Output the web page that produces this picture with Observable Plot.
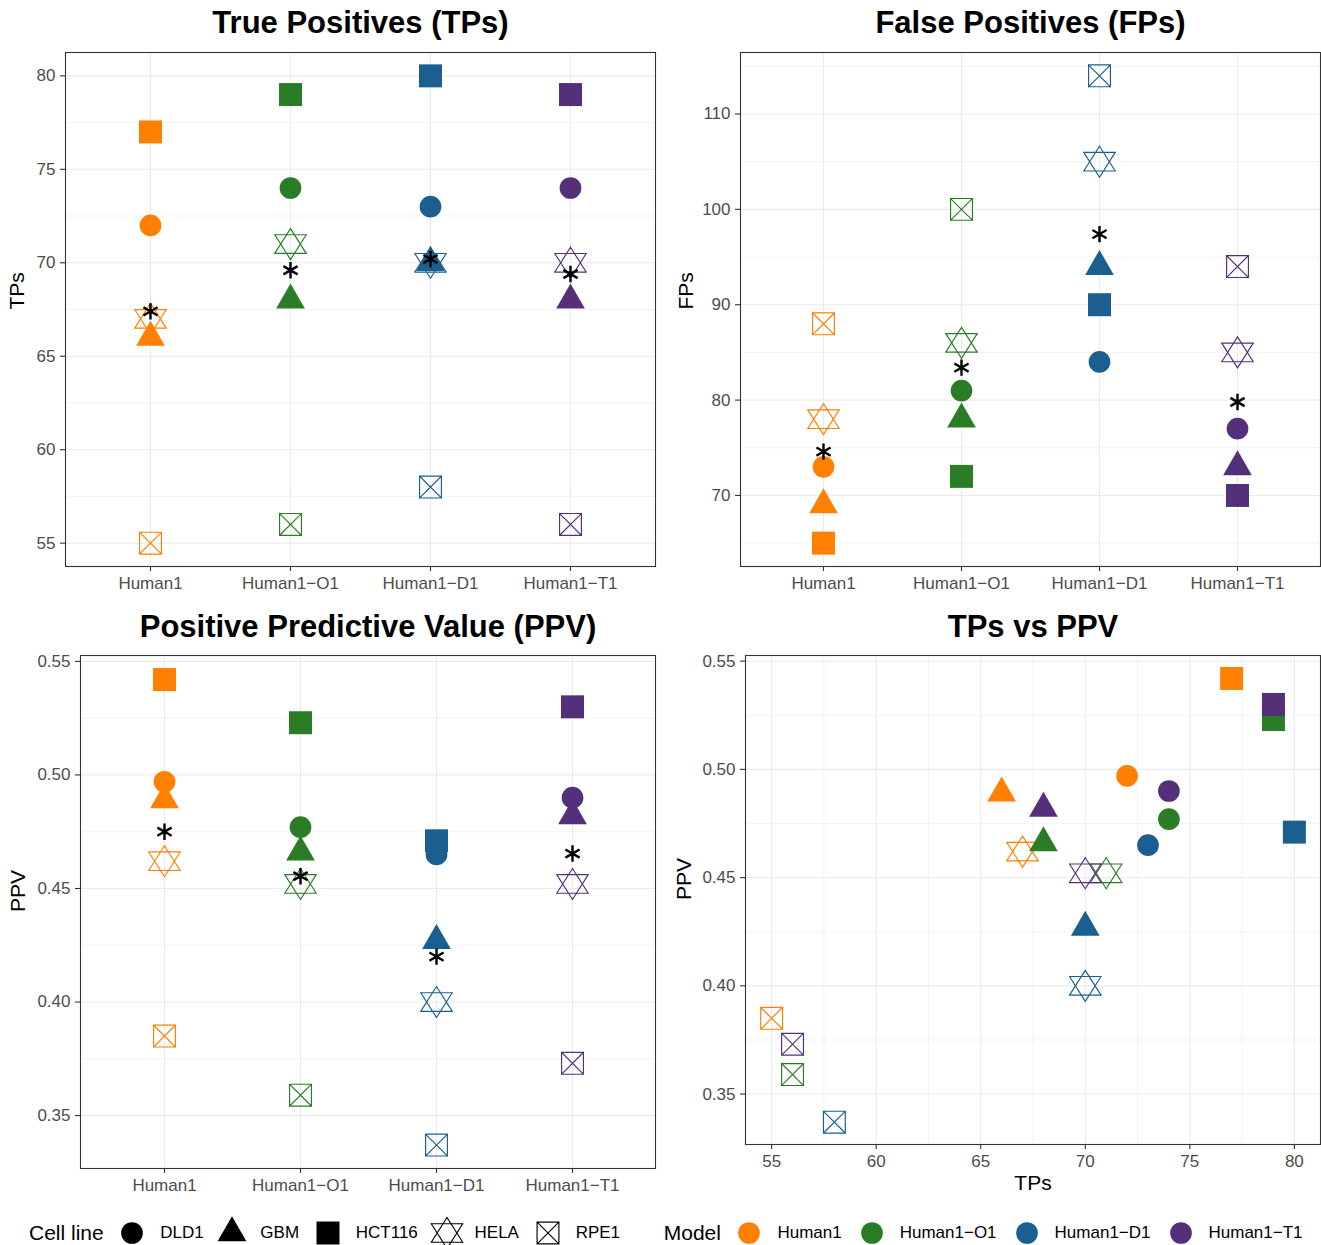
<!DOCTYPE html>
<html><head><meta charset="utf-8">
<script src="https://cdn.jsdelivr.net/npm/d3@7"></script>
<script src="https://cdn.jsdelivr.net/npm/@observablehq/plot@0.6"></script>
<style>
html,body{margin:0;padding:0;background:#fff;}
#root{position:relative;width:1321px;height:1245px;font-family:"Liberation Sans",Arial,Helvetica,sans-serif;overflow:hidden;}
#root svg.panel{position:absolute;overflow:visible;}
#legend{position:absolute;left:0;top:1207px;width:1321px;height:52px;display:flex;align-items:center;justify-content:flex-start;padding-left:29px;box-sizing:border-box;color:#000;}
#legend .lt{font-size:21px;margin-right:11.5px;}
#legend .lab{font-size:17px;}
#legend .lab.cell{margin-right:11.7px;}
#legend .lab.model{margin-right:13px;}
#legend svg{margin-right:11px;flex:none;}
#legend .gap{width:32px;flex:none;}
</style></head><body><div id="root"></div>
<script>
// ---- data ----
const models = ["Human1", "Human1-O1", "Human1-D1", "Human1-T1"];
const cellLines = ["DLD1", "GBM", "HCT116", "HELA", "RPE1"];
const modelColors = ["#FF7F00", "#2A7D26", "#1A5F8F", "#55307A"];
// rows: models (in order above), columns: cell lines (in order above)
const tpValues = [
  [72, 66, 77, 67, 55],
  [74, 68, 79, 71, 56],
  [73, 70, 80, 70, 58],
  [74, 68, 79, 70, 56]
];
const fpValues = [
  [73, 69, 65, 78, 88],
  [81, 78, 72, 86, 100],
  [84, 94, 90, 105, 114],
  [77, 73, 70, 85, 94]
];
const ppvValues = [
  [0.497, 0.489, 0.542, 0.462, 0.385],
  [0.477, 0.466, 0.523, 0.452, 0.359],
  [0.465, 0.427, 0.471, 0.400, 0.337],
  [0.490, 0.482, 0.530, 0.452, 0.373]
];
const tpTicks = [55, 60, 65, 70, 75, 80];
const tpMinor = [57.5, 62.5, 67.5, 72.5, 77.5];
const fpTicks = [70, 80, 90, 100, 110];
const fpMinor = [65, 75, 85, 95, 105, 115];
const ppvTicks = [0.35, 0.40, 0.45, 0.50, 0.55];
const ppvMinor = [0.375, 0.425, 0.475, 0.525];

const rows = models.flatMap((m, i) => cellLines.map((c, j) => ({
  model: m, cell: c, tp: tpValues[i][j], fp: fpValues[i][j], ppv: ppvValues[i][j]
})));

// ---- symbols ----
const W = 1.15;
function segQuads(ctx, segs, w) {
  const h = w / 2;
  for (const [x1, y1, x2, y2] of segs) {
    const dx = x2 - x1, dy = y2 - y1, L = Math.hypot(dx, dy), ux = dx / L, uy = dy / L;
    const nx = -uy * h, ny = ux * h;
    const ax = x1 - ux * h, ay = y1 - uy * h, bx = x2 + ux * h, by = y2 + uy * h;
    ctx.moveTo(ax + nx, ay + ny); ctx.lineTo(bx + nx, by + ny);
    ctx.lineTo(bx - nx, by - ny); ctx.lineTo(ax - nx, ay - ny); ctx.closePath();
  }
}
const symCircle = {draw(ctx, size) { const r = Math.sqrt(size / Math.PI) * 0.986; ctx.moveTo(r, 0); ctx.arc(0, 0, r, 0, 2 * Math.PI); ctx.closePath(); }};
const symTriangle = {draw(ctx, size) { const r = Math.sqrt(size / Math.PI); ctx.moveTo(0, -1.515 * r); ctx.lineTo(1.305 * r, 0.755 * r); ctx.lineTo(-1.305 * r, 0.755 * r); ctx.closePath(); }};
const symSquare = {draw(ctx, size) { const s = Math.sqrt(size / Math.PI) * 1.045; ctx.moveTo(-s, -s); ctx.lineTo(s, -s); ctx.lineTo(s, s); ctx.lineTo(-s, s); ctx.closePath(); }};
const symHexagram = {draw(ctx, size) {
  const r = Math.sqrt(size / Math.PI), a = 1.41 * r, b = 0.845 * r, c = 1.43 * r;
  const tris = [[[0, -a], [c, b], [-c, b]], [[0, a], [c, -b], [-c, -b]]];
  const segs = [];
  for (const t of tris) for (let i = 0; i < 3; i++) { const p = t[i], q = t[(i + 1) % 3]; segs.push([p[0], p[1], q[0], q[1]]); }
  segQuads(ctx, segs, W);
}};
const symBoxX = {draw(ctx, size) {
  const s = Math.sqrt(size / Math.PI) * 1.045 - W / 2;
  segQuads(ctx, [[-s, -s, s, -s], [s, -s, s, s], [s, s, -s, s], [-s, s, -s, -s], [-s, -s, s, s], [-s, s, s, -s]], W);
}};
const symAsterisk = {draw(ctx, size) {
  const r = Math.sqrt(size / Math.PI);
  const segs = [90, 30, -30].map(a => { const t = a * Math.PI / 180; return [-r * Math.cos(t), -r * Math.sin(t), r * Math.cos(t), r * Math.sin(t)]; });
  segQuads(ctx, segs, 2.4);
}};
const cellSymbols = [symCircle, symTriangle, symSquare, symHexagram, symBoxX];

// ---- common styling ----
const FONT = '"Liberation Sans", Arial, Helvetica, sans-serif';
const GRID = "#EBEBEB";
const axisOpts = {tickSize: 5, tickPadding: 5, fontSize: 17, stroke: "#333333", fill: "#4D4D4D", strokeWidth: 1.1, label: null};
const fmtModel = d => d.replace("-", "\u2212");

function title(t, dy) {
  return Plot.text([t], {text: d => d, frameAnchor: "top", dy, fontSize: 31, fontWeight: "bold", fill: "black", lineAnchor: "middle"});
}
function yTitle(t, dx) {
  return Plot.text([t], {text: d => d, frameAnchor: "left", dx, rotate: -90, fontSize: 21, fill: "black", lineAnchor: "middle"});
}

function stripPanel({key, ticks, minor, domain, fmt, t, yt, yDx, tDy, box}) {
  return Plot.plot({
    ...box,
    style: {fontFamily: FONT, background: "transparent", overflow: "visible"},
    x: {type: "point", domain: models, padding: 0.6},
    y: {domain},
    color: {type: "ordinal", domain: models, range: modelColors},
    symbol: {domain: cellLines, range: cellSymbols},
    marks: [
      Plot.gridY(minor, {stroke: GRID, strokeOpacity: 1, strokeWidth: 0.6}),
      Plot.gridY(ticks, {stroke: GRID, strokeOpacity: 1, strokeWidth: 1.1}),
      Plot.gridX(models, {stroke: GRID, strokeOpacity: 1, strokeWidth: 1.1}),
      Plot.axisY(ticks, {...axisOpts, tickFormat: fmt}),
      Plot.axisX(models, {...axisOpts, tickFormat: fmtModel}),
      Plot.dot(rows, {x: "model", y: key, symbol: "cell", fill: "model", stroke: "none", r: 11}),
      Plot.dot(rows, Plot.groupX({y: "mean"}, {x: "model", y: key, symbol: symAsterisk, fill: "black", stroke: "none", r: 7})),
      Plot.frame({stroke: "#333333", strokeWidth: 1.1}),
      title(t, tDy),
      yTitle(yt, yDx)
    ]
  });
}

const root = document.getElementById("root");
function place(svg, left, top) {
  svg.classList.add("panel");
  svg.style.left = left + "px";
  svg.style.top = top + "px";
  root.appendChild(svg);
}

place(stripPanel({key: "tp", ticks: tpTicks, minor: tpMinor, domain: [53.75, 81.25], fmt: d3.format("d"),
  t: "True Positives (TPs)", yt: "TPs", yDx: -48, tDy: -29,
  box: {width: 660, height: 600, marginTop: 52, marginRight: 5, marginBottom: 34, marginLeft: 65}}), 0, 0);

place(stripPanel({key: "fp", ticks: fpTicks, minor: fpMinor, domain: [62.55, 116.45], fmt: d3.format("d"),
  t: "False Positives (FPs)", yt: "FPs", yDx: -54, tDy: -29,
  box: {width: 661, height: 600, marginTop: 52, marginRight: 1, marginBottom: 34, marginLeft: 80}}), 660, 0);

place(stripPanel({key: "ppv", ticks: ppvTicks, minor: ppvMinor, domain: [0.3267, 0.5526], fmt: d3.format(".2f"),
  t: "Positive Predictive Value (PPV)", yt: "PPV", yDx: -62, tDy: -28,
  box: {width: 660, height: 605, marginTop: 55, marginRight: 5, marginBottom: 37, marginLeft: 80}}), 0, 600);

// scatter panel
place(Plot.plot({
  width: 661, height: 605, marginTop: 55, marginRight: 1, marginBottom: 61, marginLeft: 85,
  style: {fontFamily: FONT, background: "transparent", overflow: "visible"},
  x: {domain: [53.75, 81.25]},
  y: {domain: [0.3267, 0.5526]},
  color: {type: "ordinal", domain: models, range: modelColors},
  symbol: {domain: cellLines, range: cellSymbols},
  marks: [
    Plot.gridY(ppvMinor, {stroke: GRID, strokeOpacity: 1, strokeWidth: 0.6}),
    Plot.gridX(tpMinor, {stroke: GRID, strokeOpacity: 1, strokeWidth: 0.6}),
    Plot.gridY(ppvTicks, {stroke: GRID, strokeOpacity: 1, strokeWidth: 1.1}),
    Plot.gridX(tpTicks, {stroke: GRID, strokeOpacity: 1, strokeWidth: 1.1}),
    Plot.axisY(ppvTicks, {...axisOpts, tickFormat: d3.format(".2f")}),
    Plot.axisX(tpTicks, {...axisOpts, tickFormat: d3.format("d")}),
    Plot.dot(rows, {x: "tp", y: "ppv", symbol: "cell", fill: "model", stroke: "none", r: 11}),
    Plot.frame({stroke: "#333333", strokeWidth: 1.1}),
    title("TPs vs PPV", -28),
    yTitle("PPV", -61),
    Plot.text(["TPs"], {text: d => d, frameAnchor: "bottom", dy: 39, fontSize: 21, fill: "black", lineAnchor: "middle"})
  ]
}), 660, 600);

// ---- legend ----
const legend = document.createElement("div");
legend.id = "legend";
root.appendChild(legend);
function symSvg(sym, color) {
  const ns = "http://www.w3.org/2000/svg";
  const s = document.createElementNS(ns, "svg");
  s.setAttribute("width", 34); s.setAttribute("height", 34);
  const p = document.createElementNS(ns, "path");
  const ctx = d3.path();
  sym.draw(ctx, Math.PI * 11 * 11);
  p.setAttribute("d", ctx.toString());
  p.setAttribute("transform", "translate(17,17)");
  p.setAttribute("fill", color);
  s.appendChild(p);
  return s;
}
function addText(cls, t) { const e = document.createElement("span"); e.className = cls; e.textContent = t; legend.appendChild(e); }
addText("lt", "Cell line");
cellLines.forEach((c, i) => { legend.appendChild(symSvg(cellSymbols[i], "#000")); addText("lab cell", c); });
const gap = document.createElement("span"); gap.className = "gap"; legend.appendChild(gap);
addText("lt", "Model");
models.forEach((m, i) => { legend.appendChild(symSvg(symCircle, modelColors[i])); addText("lab model", fmtModel(m)); });
</script></body></html>
